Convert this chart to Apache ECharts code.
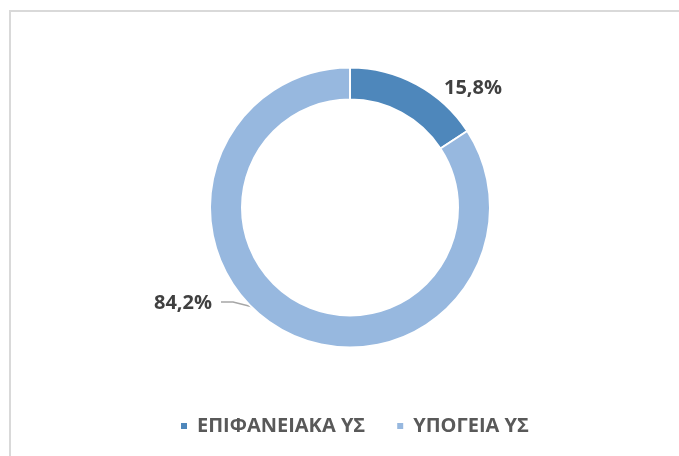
<!DOCTYPE html>
<html>
<head>
<meta charset="utf-8">
<script src="https://cdn.jsdelivr.net/npm/echarts@6/dist/echarts.min.js"></script>
<style>
  html, body { margin: 0; padding: 0; background: #fff; }
  #chart { width: 679px; height: 456px; }
</style>
</head>
<body>
<div id="chart"></div>
<script>
const categories = ['ΕΠΙΦΑΝΕΙΑΚΑ ΥΣ', 'ΥΠΟΓΕΙΑ ΥΣ'];
const shares = [15.8, 84.2];
const colors = ['#4e87bb', '#97b8df'];

const cx = 350, cy = 207.5;
const rIn = 108, rOut = 140;
const total = shares.reduce((a, b) => a + b, 0);

// mid angle (radians, screen coords) of slice i, clockwise from 12 o'clock
const midAngle = (i) => {
  let before = 0;
  for (let k = 0; k < i; k++) before += shares[k];
  const frac = (before + shares[i] / 2) / total;
  return -Math.PI / 2 + frac * Math.PI * 2;
};

const chart = echarts.init(document.getElementById('chart'));
const font = '"Open Sans", sans-serif';

const option = {
  animation: false,
  color: colors,
  graphic: [
    {type: 'line', shape: {x1: 10, y1: 11, x2: 679, y2: 11}, style: {stroke: '#d9d9d9', lineWidth: 2}},
    {type: 'line', shape: {x1: 10, y1: 10, x2: 10, y2: 456}, style: {stroke: '#d9d9d9', lineWidth: 2}},
  ],
  legend: {
    top: 411,
    left: 174,
    icon: 'rect',
    itemWidth: 8,
    itemHeight: 8,
    itemGap: 30,
    textStyle: {fontFamily: font, fontSize: 20, fontWeight: 'bold', color: '#595959', padding: [0, 0, 0, 4]},
    data: categories,
  },
  series: [{
    type: 'pie',
    center: [cx, cy],
    radius: [rIn, rOut],
    startAngle: 90,
    clockwise: true,
    itemStyle: {borderColor: '#fff', borderWidth: 2},
    label: {
      show: true,
      position: 'outside',
      formatter: (p) => p.value.toFixed(1).replace('.', ',') + '%',
      fontFamily: font,
      fontSize: 20,
      fontWeight: 'bold',
      color: '#404040',
    },
    labelLine: {show: true, lineStyle: {color: '#a6a6a6', width: 1.5}},
    labelLayout: (params) => {
      const i = params.dataIndex;
      const w = params.labelRect.width;
      if (i === 0) {
        return {x: 473 - w / 2, y: 88, align: 'left', verticalAlign: 'middle', labelLinePoints: [[0, 0], [0, 0], [0, 0]]};
      }
      const a = midAngle(i);
      const rm = (rIn + rOut) / 2;
      const sx = cx + rm * Math.cos(a), sy = cy + rm * Math.sin(a);
      const lx = 212;
      return {
        x: lx - w, y: 303, align: 'left', verticalAlign: 'middle',
        labelLinePoints: [[sx, sy], [lx + 21, 302], [lx + 9, 302]],
      };
    },
    data: categories.map((name, i) => ({name, value: shares[i]})),
  }],
};

chart.setOption(option);
</script>
</body>
</html>
